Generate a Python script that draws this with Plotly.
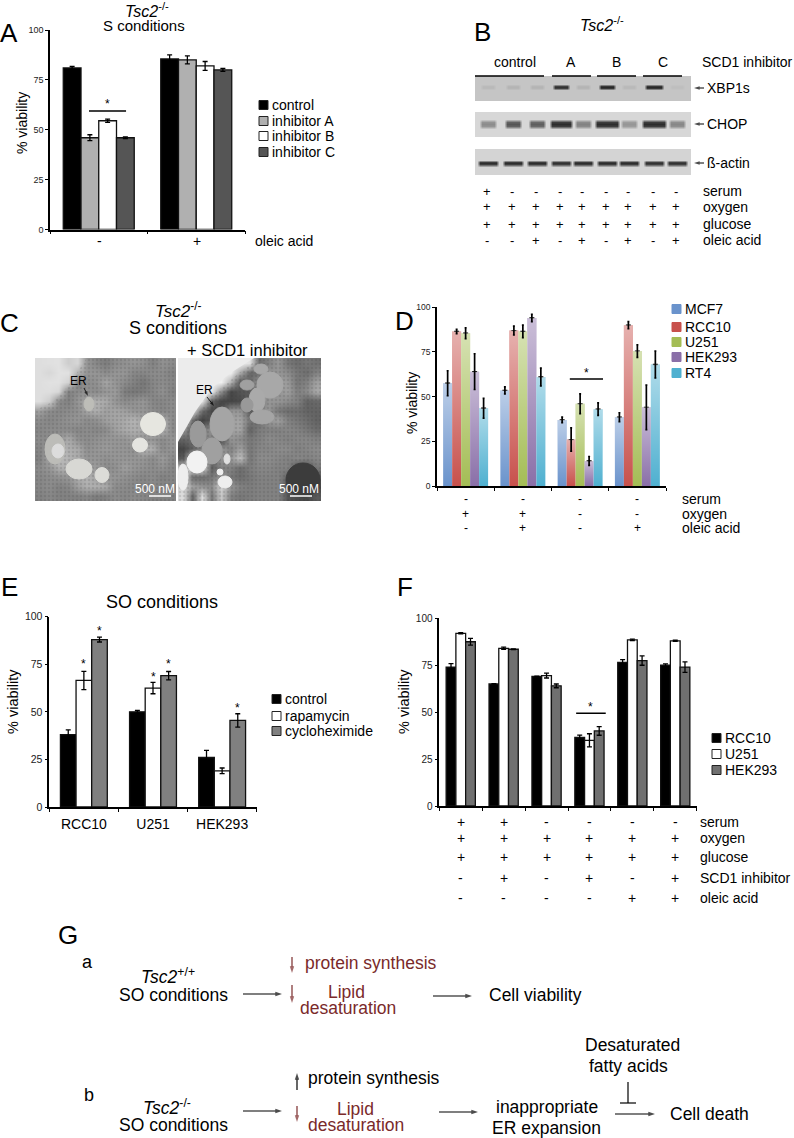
import plotly.graph_objects as go

W, H = 794, 1138
FONT = "Liberation Sans"
DARK_RED = "#7a2a2a"

# panel A
a_groups = [0, 1]
a_names = ["control", "inhibitor A", "inhibitor B", "inhibitor C"]
a_values = [[81, 85.5], [46, 85], [54.5, 82], [46, 80]]
a_errors = [[0.7, 2], [1.5, 2], [0.8, 2.2], [0.4, 0.7]]
a_colors = ["#000000", "#b0b0b0", "#ffffff", "#555555"]

# panel D
d_groups = [0, 1, 2, 3]
d_names = ["MCF7", "RCC10", "U251", "HEK293", "RT4"]
d_values = [[57.5, 53.5, 37, 38.5], [86.5, 87, 26, 90], [85.5, 86.5, 46, 75.5], [64, 94, 14, 44], [43.5, 61, 43, 68]]
d_errors = [[7, 2, 1.5, 2.5], [1.2, 2.5, 6.5, 2], [3, 3.5, 5.5, 3.5], [10, 2, 2.5, 12.5], [5.5, 5, 3.5, 7.5]]
d_colors = ["#6a93cc", "#c8514c", "#a4bd55", "#8a6fa8", "#4fb0d0"]
d_rows = {
    "serum": ["-", "-", "-", "-"],
    "oxygen": ["+", "+", "-", "-"],
    "oleic acid": ["-", "+", "-", "+"],
}

# panel E
e_groups = [0, 1, 2]
e_categories = ["RCC10", "U251", "HEK293"]
e_names = ["control", "rapamycin", "cycloheximide"]
e_values = [[38, 50, 26], [66.5, 62.5, 19], [88, 69, 45.5]]
e_errors = [[2.5, 0.7, 3.8], [4.8, 3, 1.5], [1.3, 2.2, 3.5]]
e_colors = ["#000000", "#ffffff", "#808080"]

# panel F
f_groups = [0, 1, 2, 3, 4, 5]
f_names = ["RCC10", "U251", "HEK293"]
f_values = [[74, 65, 69, 36.5, 76.5, 75], [92, 84, 69.5, 35, 88.5, 88], [87.5, 83.5, 64, 40, 77.5, 74]]
f_errors = [[1.8, 0.2, 0.2, 1.3, 1.5, 0.7], [0.3, 0.6, 1.3, 3.5, 0.4, 0.3], [1.8, 0.2, 1, 2.3, 2.5, 2.8]]
f_colors = ["#000000", "#ffffff", "#707070"]
f_rows = {
    "serum": ["+", "+", "-", "-", "-", "-"],
    "oxygen": ["+", "+", "+", "+", "+", "+"],
    "glucose": ["+", "+", "+", "+", "+", "+"],
    "SCD1 inhibitor": ["-", "+", "-", "+", "-", "+"],
    "oleic acid": ["-", "-", "-", "-", "+", "+"],
}

# panel B, gray level of each band per lane
b_lanes = [488, 513, 537, 561, 583, 607, 629, 654, 677]
xbp1s_band = [185, 180, 180, 50, 180, 40, 185, 40, 190]
chop_band = [140, 85, 95, 45, 130, 45, 150, 45, 135]
actin_band = [45, 45, 45, 50, 45, 45, 45, 50, 50]
xbp1s_width = [8, 8, 8, 9, 8, 9, 8, 10, 8]
chop_width = [9, 9, 9, 12, 9, 13, 9, 13, 9]
actin_width = [11, 11, 11, 11, 11, 11, 11, 11, 11]
b_rows = {
    "serum": ["+", "-", "-", "-", "-", "-", "-", "-", "-"],
    "oxygen": ["+", "+", "+", "+", "+", "+", "+", "+", "+"],
    "glucose": ["+", "+", "+", "+", "+", "+", "+", "+", "+"],
    "oleic acid": ["-", "-", "+", "-", "+", "-", "+", "-", "+"],
}

# panel C, gray levels of the two micrographs
em_left = [
    [222, 224, 225, 205, 215, 150, 135, 125, 140, 145, 150, 145, 130, 145, 140],
    [222, 215, 225, 225, 180, 150, 150, 140, 150, 150, 135, 135, 140, 140, 130],
    [222, 225, 225, 210, 130, 140, 145, 165, 150, 140, 130, 120, 135, 140, 135],
    [222, 222, 215, 130, 140, 145, 140, 150, 155, 125, 120, 125, 135, 145, 130],
    [222, 205, 140, 130, 150, 165, 175, 170, 150, 140, 145, 150, 135, 135, 140],
    [160, 140, 135, 140, 145, 165, 175, 160, 165, 160, 150, 150, 140, 135, 140],
    [140, 135, 140, 145, 150, 140, 145, 160, 165, 170, 180, 165, 190, 175, 140],
    [135, 140, 140, 140, 135, 140, 135, 140, 160, 170, 175, 170, 190, 180, 140],
    [140, 140, 150, 170, 145, 140, 145, 150, 150, 150, 160, 150, 150, 140, 150],
    [135, 150, 185, 175, 170, 145, 150, 155, 150, 150, 145, 180, 175, 140, 150],
    [130, 165, 190, 180, 170, 150, 150, 145, 150, 150, 150, 150, 140, 155, 140],
    [140, 150, 175, 180, 150, 160, 155, 140, 145, 160, 150, 145, 140, 145, 135],
    [135, 140, 145, 150, 170, 180, 165, 150, 150, 145, 140, 135, 140, 130, 135],
    [135, 140, 130, 135, 160, 175, 175, 170, 140, 140, 135, 130, 135, 135, 130],
    [130, 135, 130, 130, 130, 135, 125, 130, 140, 135, 140, 135, 130, 130, 130],
]
em_right = [
    [235, 238, 240, 240, 240, 240, 235, 225, 110, 130, 150, 120, 110, 120, 115],
    [235, 238, 240, 240, 240, 240, 170, 105, 110, 150, 150, 140, 120, 110, 130],
    [235, 238, 240, 240, 240, 180, 90, 105, 150, 140, 160, 155, 120, 130, 160],
    [235, 238, 240, 235, 140, 70, 85, 90, 150, 155, 150, 160, 130, 140, 170],
    [235, 235, 225, 100, 70, 70, 75, 95, 120, 150, 150, 140, 130, 100, 105],
    [235, 225, 110, 70, 75, 150, 150, 90, 140, 150, 120, 110, 110, 100, 100],
    [230, 110, 65, 90, 150, 160, 165, 120, 110, 150, 160, 130, 120, 110, 100],
    [160, 75, 120, 150, 110, 160, 165, 100, 125, 130, 130, 135, 130, 120, 110],
    [100, 110, 140, 130, 70, 150, 140, 120, 130, 140, 135, 130, 135, 135, 130],
    [70, 100, 130, 145, 150, 130, 160, 120, 135, 135, 140, 140, 130, 135, 140],
    [90, 225, 225, 110, 150, 150, 190, 120, 140, 140, 135, 130, 135, 130, 135],
    [200, 225, 230, 95, 130, 130, 110, 125, 135, 135, 130, 130, 85, 80, 120],
    [215, 110, 110, 120, 150, 120, 110, 120, 130, 130, 130, 100, 65, 60, 90],
    [215, 160, 150, 140, 210, 150, 130, 125, 130, 130, 130, 75, 60, 60, 70],
    [220, 100, 220, 120, 200, 130, 120, 125, 130, 130, 130, 85, 75, 70, 90],
]

fig = go.Figure()
annotations = []
shapes = []
GRAY = [[0, "#000000"], [1, "#ffffff"]]


def px(x):
    return x / W


def py(y):
    return 1 - y / H


def text(x, y, s, size=14, anchor="center", color="black", angle=0):
    annotations.append(dict(x=px(x), y=py(y), xref="paper", yref="paper", text=s, showarrow=False,
                            xanchor=anchor, yanchor="middle", textangle=angle,
                            font=dict(family=FONT, size=size, color=color)))


def arrow(x0, y0, x1, y1, color="black", width=1.2, head=7):
    # x10/y10 is a full page axis in pixels, used only for the diagram arrows
    fig.add_trace(go.Scatter(x=[x0, x1], y=[y0, y1], mode="lines+markers", xaxis="x10", yaxis="y10",
                             line=dict(color=color, width=width), hoverinfo="skip",
                             marker=dict(symbol="arrow", size=[0, head], color=color, angleref="previous",
                                         line=dict(width=0))))


def rule(x0, y0, x1, y1, width=1.5, color="black"):
    shapes.append(dict(type="line", xref="paper", yref="paper", x0=px(x0), y0=py(y0), x1=px(x1), y1=py(y1),
                       line=dict(color=color, width=width), layer="above"))


def oval(cx, cy, rx, ry, color, outline=None):
    shapes.append(dict(type="circle", xref="paper", yref="paper", x0=px(cx - rx), x1=px(cx + rx),
                       y0=py(cy + ry), y1=py(cy - ry), fillcolor=color, layer="above",
                       line=dict(color=outline or color, width=1)))


def legend_block(x, ys, names, colors, size=14, outline="#222222"):
    for y, name, color in zip(ys, names, colors):
        shapes.append(dict(type="rect", xref="paper", yref="paper", x0=px(x), x1=px(x + 9),
                           y0=py(y + 4.5), y1=py(y - 4.5), fillcolor=color, layer="above",
                           line=dict(color=outline or color, width=1)))
        text(x + 10.5, y, name, size, "left")


def add_axes(n, left, top, right, bottom, xrange, yrange, chart=True, tick_size=9, line_w=1.5):
    xa = dict(domain=[px(left), px(right)], range=xrange, anchor=f"y{n}", fixedrange=True, showgrid=False,
              zeroline=False, automargin=False)
    ya = dict(domain=[py(bottom), py(top)], range=yrange, anchor=f"x{n}", fixedrange=True, showgrid=False,
              zeroline=False, automargin=False)
    if chart:
        xa.update(showline=True, linecolor="black", linewidth=line_w, showticklabels=False, ticks="outside",
                  ticklen=3, tickcolor="black", tickwidth=1.2, layer="above traces")
        ya.update(showline=True, linecolor="black", linewidth=line_w, ticks="outside", ticklen=3,
                  tickcolor="black", tickwidth=1.2, tickvals=[0, 25, 50, 75, 100],
                  tickfont=dict(family=FONT, size=tick_size, color="#222222"))
    else:
        xa["visible"] = False
        ya["visible"] = False
    fig.update_layout(**{f"xaxis{n}": xa, f"yaxis{n}": ya})


def add_bars(n, groups, values, errors, colors, names, bar_w, outline="#111111", line_w=1.3, err_w=1.3, cap=2.5):
    count = len(values)
    for i in range(count):
        x = [g + (i - (count - 1) / 2) * bar_w for g in groups]
        fig.add_trace(go.Bar(x=x, y=values[i], width=bar_w, name=names[i], marker_color=colors[i],
                             marker_line=dict(color=outline, width=line_w), xaxis=f"x{n}", yaxis=f"y{n}",
                             error_y=dict(type="data", array=errors[i], visible=True, color="black",
                                          thickness=err_w, width=cap), hoverinfo="skip"))


def add_signif(n, x0, x1, y, star_y):
    fig.add_trace(go.Scatter(x=[x0, x1], y=[y, y], mode="lines", line=dict(color="black", width=1.6),
                             xaxis=f"x{n}", yaxis=f"y{n}", hoverinfo="skip"))
    add_star(n, (x0 + x1) / 2, star_y)


def add_star(n, x, y):
    annotations.append(dict(x=x, y=y, xref=f"x{n}", yref=f"y{n}", text="*", showarrow=False,
                            font=dict(family=FONT, size=12, color="black"), yanchor="middle"))


def add_marks(n, y, groups, marks, size=14):
    for g, mark in zip(groups, marks):
        annotations.append(dict(x=g, y=py(y), xref=f"x{n}", yref="paper", text=mark, showarrow=False,
                                yanchor="middle", font=dict(family=FONT, size=size, color="black")))


def add_texture(n, path):
    # granular look of the micrographs, kept off the pale background
    fig.add_trace(go.Scatter(x=[p[0] for p in path], y=[p[1] for p in path], mode="none", fill="toself",
                             xaxis=f"x{n}", yaxis=f"y{n}", hoverinfo="skip", fillcolor="rgba(0,0,0,0)",
                             fillpattern=dict(shape=".", size=4, solidity=0.35, fgcolor="rgba(50,50,50,0.3)",
                                              bgcolor="rgba(0,0,0,0)")))


def band_image(n, top, bottom, bands, widths, background, center, half):
    # blot drawn as a smoothed gray image, bands read per lane
    xs = [475]
    levels = [background]
    for lane, band, w in zip(b_lanes, bands, widths):
        xs += [lane - w, lane - w + 3, lane + w - 3, lane + w]
        levels += [background, band, band, background]
    xs.append(691)
    levels.append(background)
    ys = [top, center - half - 1, center - half / 2, center, center + half / 2, center + half + 1, bottom]
    weights = [0, 0, 0.9, 1, 0.9, 0, 0]
    z = [[background + (v - background) * k for v in levels] for k in weights]
    add_axes(n, 475, top, 691, bottom, [475, 691], [bottom, top], chart=False)
    fig.add_trace(go.Heatmap(x=xs, y=ys, z=z, colorscale=GRAY, zmin=0, zmax=255, showscale=False, zsmooth="best",
                             xaxis=f"x{n}", yaxis=f"y{n}", hoverinfo="skip"))


add_axes(10, 0, 0, W, H, [0, W], [H, 0], chart=False)

# panel A
add_axes(1, 50, 30, 245, 229.5, [-0.5, 1.5], [0, 100])
fig.update_layout(xaxis1=dict(tickvals=[-0.5, 0.5, 1.5]))
add_bars(1, a_groups, a_values, a_errors, a_colors, a_names, 0.182)
add_signif(1, -0.1, 0.28, 59.4, 63)
text(22, 123, "% viability", 14, angle=-90)
text(147, 10, "<i>Tsc2</i><sup>-/-</sup>", 16)
text(144, 26, "S conditions", 15)
text(99, 241, "-", 14)
text(197, 241, "+", 14)
text(253, 241, "oleic acid", 14, "left")
legend_block(259, [105, 121, 136, 152], a_names, a_colors)
text(9, 33, "A", 26)

# panel B
text(602, 24, "<i>Tsc2</i><sup>-/-</sup>", 16)
text(482, 32, "B", 26)
text(515, 62, "control", 14)
text(571, 62, "A", 14)
text(616, 62, "B", 14)
text(663, 62, "C", 14)
text(700, 62, "SCD1 inhibitor", 14, "left")
for x0, x1 in [(475, 544), (552, 591), (597, 636), (643, 682)]:
    rule(x0, 76, x1, 76)
band_image(5, 76, 101, xbp1s_band, xbp1s_width, 197, 87, 2)
band_image(6, 112, 137, chop_band, chop_width, 215, 124, 4)
band_image(7, 149, 175, actin_band, actin_width, 212, 163, 2.5)
for y, name in [(88, "XBP1s"), (124, "CHOP"), (163, "ß-actin")]:
    arrow(704, y, 694, y, width=1, head=6)
    text(705, y, name, 14, "left")
for y, (name, marks) in zip([191, 207, 224, 240], b_rows.items()):
    text(701, y, name, 14, "left")
    for x, mark in zip(b_lanes, marks):
        text(x - 1, y, mark, 13)

# panel C
text(9, 323, "C", 26)
text(178, 310, "<i>Tsc2</i><sup>-/-</sup>", 17)
text(178, 328, "S conditions", 18)
text(247, 350, "+ SCD1 inhibitor", 16.5)
add_axes(8, 35, 358, 176, 501, [-0.5, 14.5], [14.5, -0.5], chart=False)
add_axes(9, 178, 358, 321, 501, [-0.5, 14.5], [14.5, -0.5], chart=False)
fig.add_trace(go.Heatmap(z=em_left, colorscale=GRAY, zmin=0, zmax=255, showscale=False, zsmooth="best",
                         xaxis="x8", yaxis="y8", hoverinfo="skip"))
fig.add_trace(go.Heatmap(z=em_right, colorscale=GRAY, zmin=0, zmax=255, showscale=False, zsmooth="best",
                         xaxis="x9", yaxis="y9", hoverinfo="skip"))
add_texture(8, [(5, -0.5), (14.5, -0.5), (14.5, 14.5), (-0.5, 14.5), (-0.5, 5), (1.5, 4), (3, 2.5), (4, 1)])
add_texture(9, [(8, -0.5), (14.5, -0.5), (14.5, 14.5), (-0.5, 14.5), (-0.5, 7.5), (1, 6), (3, 3.5), (6, 1)])
for organelle in [(153, 424, 12.5, 11.5, "#e6e6e0"), (140, 445, 7.5, 7, "#e4e4e0"), (79, 469, 13, 10, "#d8d8d4"),
                  (102, 475, 7, 7.5, "#dcdcd8"), (55, 449, 10, 15, "#bcbcb8"), (58, 451, 6, 7, "#dcdcdc"),
                  (89, 404, 5, 7, "#bdbdb8")]:
    oval(*organelle)
shapes.append(dict(type="path", xref="paper", yref="paper", layer="above", fillcolor="#ececec", line=dict(width=0),
                   path="M " + " L ".join(f"{px(x)} {py(y)}" for x, y in
                                          [(178, 358), (254, 358), (232, 372), (212, 388), (195, 412), (178, 442)]) + " Z"))
for organelle in [(222, 424, 12, 17, "#a5a5a5"), (198, 434, 8, 13, "#9a9a9a"), (212, 451, 10, 13, "#a0a0a0"),
                  (270, 385, 13, 13, "#a8a8a8"), (257, 400, 8, 12, "#aaaaaa"), (247, 385, 7, 5, "#a0a0a0"),
                  (261, 369, 7, 5, "#a8a8a8"), (262, 417, 12, 7, "#a5a5a5"), (247, 405, 6, 7, "#999999"),
                  (197, 462, 10, 11, "#f2f2f2"), (225, 482, 7, 6, "#eeeeee"), (227, 459, 3, 5, "#e0e0e0"),
                  (183, 477, 5, 13, "#eeeeee"), (220, 472, 3, 3, "#eeeeee"), (303, 480, 17, 17, "#3c3c3c")]:
    oval(*organelle)
text(78, 381, "ER", 12)
text(204, 390, "ER", 12)
arrow(84, 388, 88, 396, width=0.8, head=5)
arrow(207, 397, 214, 406, width=0.8, head=5)
text(155, 489, "500 nM", 12, color="white")
text(299, 489, "500 nM", 12, color="white")
rule(149, 496, 171, 496, color="white")
rule(290, 496, 312, 496, color="white")

# panel D
add_axes(2, 437, 307.3, 666, 486, [-0.5, 3.5], [0, 100], tick_size=8.5)
fig.update_layout(xaxis2=dict(tickvals=[-0.5, 0.5, 1.5, 2.5, 3.5]))
D_W = 0.157
add_bars(2, d_groups, d_values, [[0] * 4] * 5, d_colors, d_names, D_W, outline="rgba(0,0,0,0)", line_w=0)
for i, series in enumerate(d_values):
    for g, v in zip(d_groups, series):
        c = g + (i - 2) * D_W
        # lighter towards the top of each bar
        fig.add_trace(go.Scatter(x=[c - D_W / 2, c + D_W / 2, c + D_W / 2, c - D_W / 2], y=[0, 0, v, v],
                                 mode="none", fill="toself", xaxis="x2", yaxis="y2", hoverinfo="skip",
                                 fillgradient=dict(type="vertical",
                                                   colorscale=[[0, "rgba(255,255,255,0)"],
                                                               [1, "rgba(255,255,255,0.55)"]])))
for i, series in enumerate(d_values):
    fig.add_trace(go.Scatter(x=[g + (i - 2) * D_W for g in d_groups], y=series, mode="markers",
                             marker=dict(size=1, color="rgba(0,0,0,0)"), xaxis="x2", yaxis="y2", hoverinfo="skip",
                             error_y=dict(type="data", array=d_errors[i], color="black", thickness=1.7, width=1)))
add_signif(2, 1.82, 2.4, 59.9, 63)
text(412, 403, "% viability", 14, angle=-90)
text(404, 321, "D", 26)
legend_block(672, [309, 327, 342, 357, 373], d_names, d_colors, outline=None)
for y, (name, marks) in zip([499, 514, 528], d_rows.items()):
    text(680, y, name, 14, "left")
    add_marks(2, y, d_groups, marks, 12)

# panel E
add_axes(3, 49.3, 616.7, 256.7, 807, [-0.5, 2.5], [0, 100], tick_size=10.5)
fig.update_layout(xaxis3=dict(tickvals=e_groups, ticktext=e_categories, showticklabels=True, ticks="",
                              ticklabelstandoff=3, tickfont=dict(family=FONT, size=14, color="black"),
                              minor=dict(tickvals=[-0.5, 0.5, 1.5, 2.5], ticks="outside", ticklen=3,
                                         tickcolor="black", tickwidth=1.2)))
add_bars(3, e_groups, e_values, e_errors, e_colors, e_names, 0.226)
for x, y in [(0, 75), (0.226, 92.6), (1, 68.4), (1.226, 75), (2.226, 52)]:
    add_star(3, x, y)
text(13, 702, "% viability", 14.5, angle=-90)
text(162, 602, "SO conditions", 18)
text(9, 587, "E", 26)
legend_block(272, [699, 716, 731], e_names, e_colors)

# panel F
add_axes(4, 439.3, 618.3, 696.7, 806, [-0.5, 5.5], [0, 100], tick_size=10)
fig.update_layout(xaxis4=dict(tickvals=[-0.5, 0.5, 1.5, 2.5, 3.5, 4.5, 5.5]))
add_bars(4, f_groups, f_values, f_errors, f_colors, f_names, 0.227)
add_signif(4, 2.69, 3.38, 49.4, 53)
text(404, 702, "% viability", 14.5, angle=-90)
text(405, 587, "F", 26)
legend_block(712, [738, 754, 770], f_names, f_colors)
for y, (name, marks) in zip([821.7, 838, 857.3, 878.3, 897.7], f_rows.items()):
    text(698, y, name, 14, "left")
    add_marks(4, y, f_groups, marks)

# panel G
G_SIZE = 17.5
text(68, 935, "G", 26)
text(87, 962, "a", 18)
text(89, 1095, "b", 18)
text(168, 976, "<i>Tsc2</i><sup>+/+</sup>", G_SIZE)
text(173, 995, "SO conditions", G_SIZE)
arrow(243, 994, 282, 994)
arrow(292, 957, 292, 973, DARK_RED)
arrow(292, 985, 292, 1003, DARK_RED)
text(371, 963, "protein synthesis", G_SIZE, color=DARK_RED)
text(346, 992, "Lipid", G_SIZE, color=DARK_RED)
text(348, 1008, "desaturation", G_SIZE, color=DARK_RED)
arrow(433, 996, 472, 996)
text(535, 995, "Cell viability", G_SIZE)
text(167, 1107, "<i>Tsc2</i><sup>-/-</sup>", G_SIZE)
text(173, 1125, "SO conditions", G_SIZE)
arrow(243, 1111, 282, 1111)
arrow(297, 1090, 297, 1073)
text(374, 1078, "protein synthesis", G_SIZE)
arrow(297, 1106, 297, 1122, DARK_RED)
text(355, 1109, "Lipid", G_SIZE, color=DARK_RED)
text(356, 1125, "desaturation", G_SIZE, color=DARK_RED)
arrow(439, 1112, 478, 1112)
text(547, 1107, "inappropriate", G_SIZE)
text(546, 1128, "ER expansion", G_SIZE)
text(632, 1045, "Desaturated", G_SIZE)
text(628, 1066, "fatty acids", G_SIZE)
rule(628, 1082, 628, 1103, 1.2)
rule(620, 1103, 636, 1103, 1.2)
arrow(615, 1114, 655, 1114)
text(709, 1114, "Cell death", G_SIZE)

fig.update_layout(width=W, height=H, margin=dict(l=0, r=0, t=0, b=0, autoexpand=False), showlegend=False,
                  barmode="overlay", paper_bgcolor="white", plot_bgcolor="rgba(0,0,0,0)", annotations=annotations,
                  shapes=shapes, font=dict(family=FONT))
fig.write_html("out.html", config=dict(displayModeBar=False),
               post_script="document.body.style.margin='0';")
